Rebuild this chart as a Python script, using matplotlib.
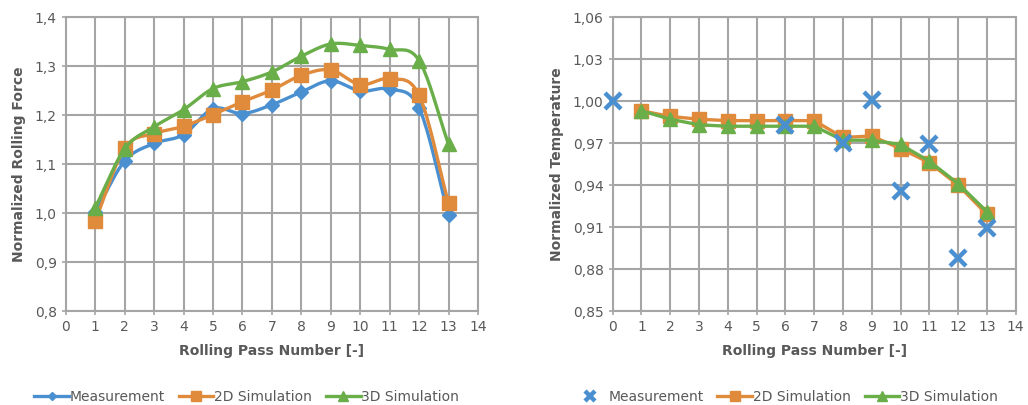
import numpy as np
import matplotlib
matplotlib.use('Agg')
import matplotlib.pyplot as plt
from matplotlib.ticker import FuncFormatter

plt.rcParams['font.family'] = ['DejaVu Sans']

# data - rolling force
passes = np.arange(1, 14)
force_meas = [1.002, 1.106, 1.142, 1.160, 1.213, 1.203, 1.221, 1.247, 1.270, 1.249, 1.253, 1.214, 0.996]
force_2d = [0.984, 1.132, 1.162, 1.177, 1.201, 1.227, 1.251, 1.281, 1.292, 1.262, 1.274, 1.240, 1.020]
force_3d = [1.011, 1.131, 1.176, 1.211, 1.254, 1.268, 1.288, 1.320, 1.345, 1.342, 1.334, 1.311, 1.140]

# data - temperature
temp_meas_x = [0, 6, 8, 9, 10, 11, 12, 13]
temp_meas = [1.000, 0.983, 0.970, 1.001, 0.936, 0.969, 0.888, 0.909]
temp_2d = [0.993, 0.989, 0.987, 0.986, 0.986, 0.986, 0.986, 0.974, 0.975, 0.966, 0.956, 0.940, 0.919]
temp_3d = [0.993, 0.987, 0.983, 0.982, 0.982, 0.982, 0.982, 0.972, 0.972, 0.969, 0.957, 0.941, 0.921]

blue = '#4A90D0'
orange = '#E08A3C'
green = '#6AAE4A'
gray = '#595959'
gridc = '#A5A5A5'


def smooth(x, y, n=20):
    # catmull-rom style smoothing like excel smoothed lines
    x = np.asarray(x, float)
    y = np.asarray(y, float)
    px = np.concatenate([[2 * x[0] - x[1]], x, [2 * x[-1] - x[-2]]])
    py = np.concatenate([[2 * y[0] - y[1]], y, [2 * y[-1] - y[-2]]])
    xs, ys = [], []
    t = np.linspace(0, 1, n)
    for i in range(1, len(px) - 2):
        for p, out in ((px, xs), (py, ys)):
            p0, p1, p2, p3 = p[i - 1], p[i], p[i + 1], p[i + 2]
            out.extend(0.5 * (2 * p1 + (-p0 + p2) * t + (2 * p0 - 5 * p1 + 4 * p2 - p3) * t ** 2
                              + (-p0 + 3 * p1 - 3 * p2 + p3) * t ** 3))
    return xs, ys


def style(ax, ylo, yhi, step, fmt, ylabel):
    ax.set_xlim(0, 14)
    ax.set_ylim(ylo, yhi)
    ax.set_xticks(range(0, 15))
    ax.set_yticks(np.arange(ylo, yhi + step / 2, step))
    ax.yaxis.set_major_formatter(FuncFormatter(lambda v, p: (fmt % v).replace('.', ',')))
    ax.grid(True, color=gridc, lw=1.5)
    ax.set_axisbelow(True)
    for s in ax.spines.values():
        s.set_color(gridc)
        s.set_linewidth(1.5)
    ax.tick_params(axis='both', colors=gridc, labelcolor=gray, labelsize=10, length=3, width=1.2)
    ax.set_xlabel('Rolling Pass Number [-]', color=gray, fontsize=10, fontweight='bold', labelpad=7)
    ax.set_ylabel(ylabel, color=gray, fontsize=10, fontweight='bold', labelpad=6)


fig = plt.figure(figsize=(10.28, 4.05), dpi=100)
ax1 = fig.add_axes([0.064, 0.232, 0.401, 0.726])
ax2 = fig.add_axes([0.596, 0.232, 0.392, 0.726])

for y, c, m, ms, lab in ((force_meas, blue, 'D', 7, 'Measurement'),
                          (force_2d, orange, 's', 10, '2D Simulation'),
                          (force_3d, green, '^', 10, '3D Simulation')):
    sx, sy = smooth(passes, y)
    ax1.plot(sx, sy, color=c, lw=2.4)
    ax1.plot(passes, y, ls='none', marker=m, ms=ms, color=c)
    ax1.plot([], [], color=c, lw=2.4, marker=m, ms=ms, label=lab)
style(ax1, 0.8, 1.4, 0.1, '%.1f', 'Normalized Rolling Force')
ax1.legend(loc='center', bbox_to_anchor=(0.240, 0.02), bbox_transform=fig.transFigure, ncol=3,
           frameon=False, fontsize=10, labelcolor=gray, handlelength=2.5, handletextpad=0.05,
           columnspacing=1.0, markerscale=0.65)

ax2.plot(temp_meas_x, temp_meas, ls='none', marker='x', ms=12, mew=3.2, color=blue,
         label='Measurement', clip_on=False, zorder=5)
ax2.plot(passes, temp_2d, color=orange, lw=2.4, marker='s', ms=10, label='2D Simulation')
ax2.plot(passes, temp_3d, color=green, lw=2.4, marker='^', ms=10, label='3D Simulation')
style(ax2, 0.85, 1.06, 0.03, '%.2f', 'Normalized Temperature')
ax2.legend(loc='center', bbox_to_anchor=(0.764, 0.02), bbox_transform=fig.transFigure, ncol=3,
           frameon=False, fontsize=10, labelcolor=gray, handlelength=2.5, handletextpad=0.05,
           columnspacing=1.0, markerscale=0.65)

fig.savefig('out.png', dpi=100)
